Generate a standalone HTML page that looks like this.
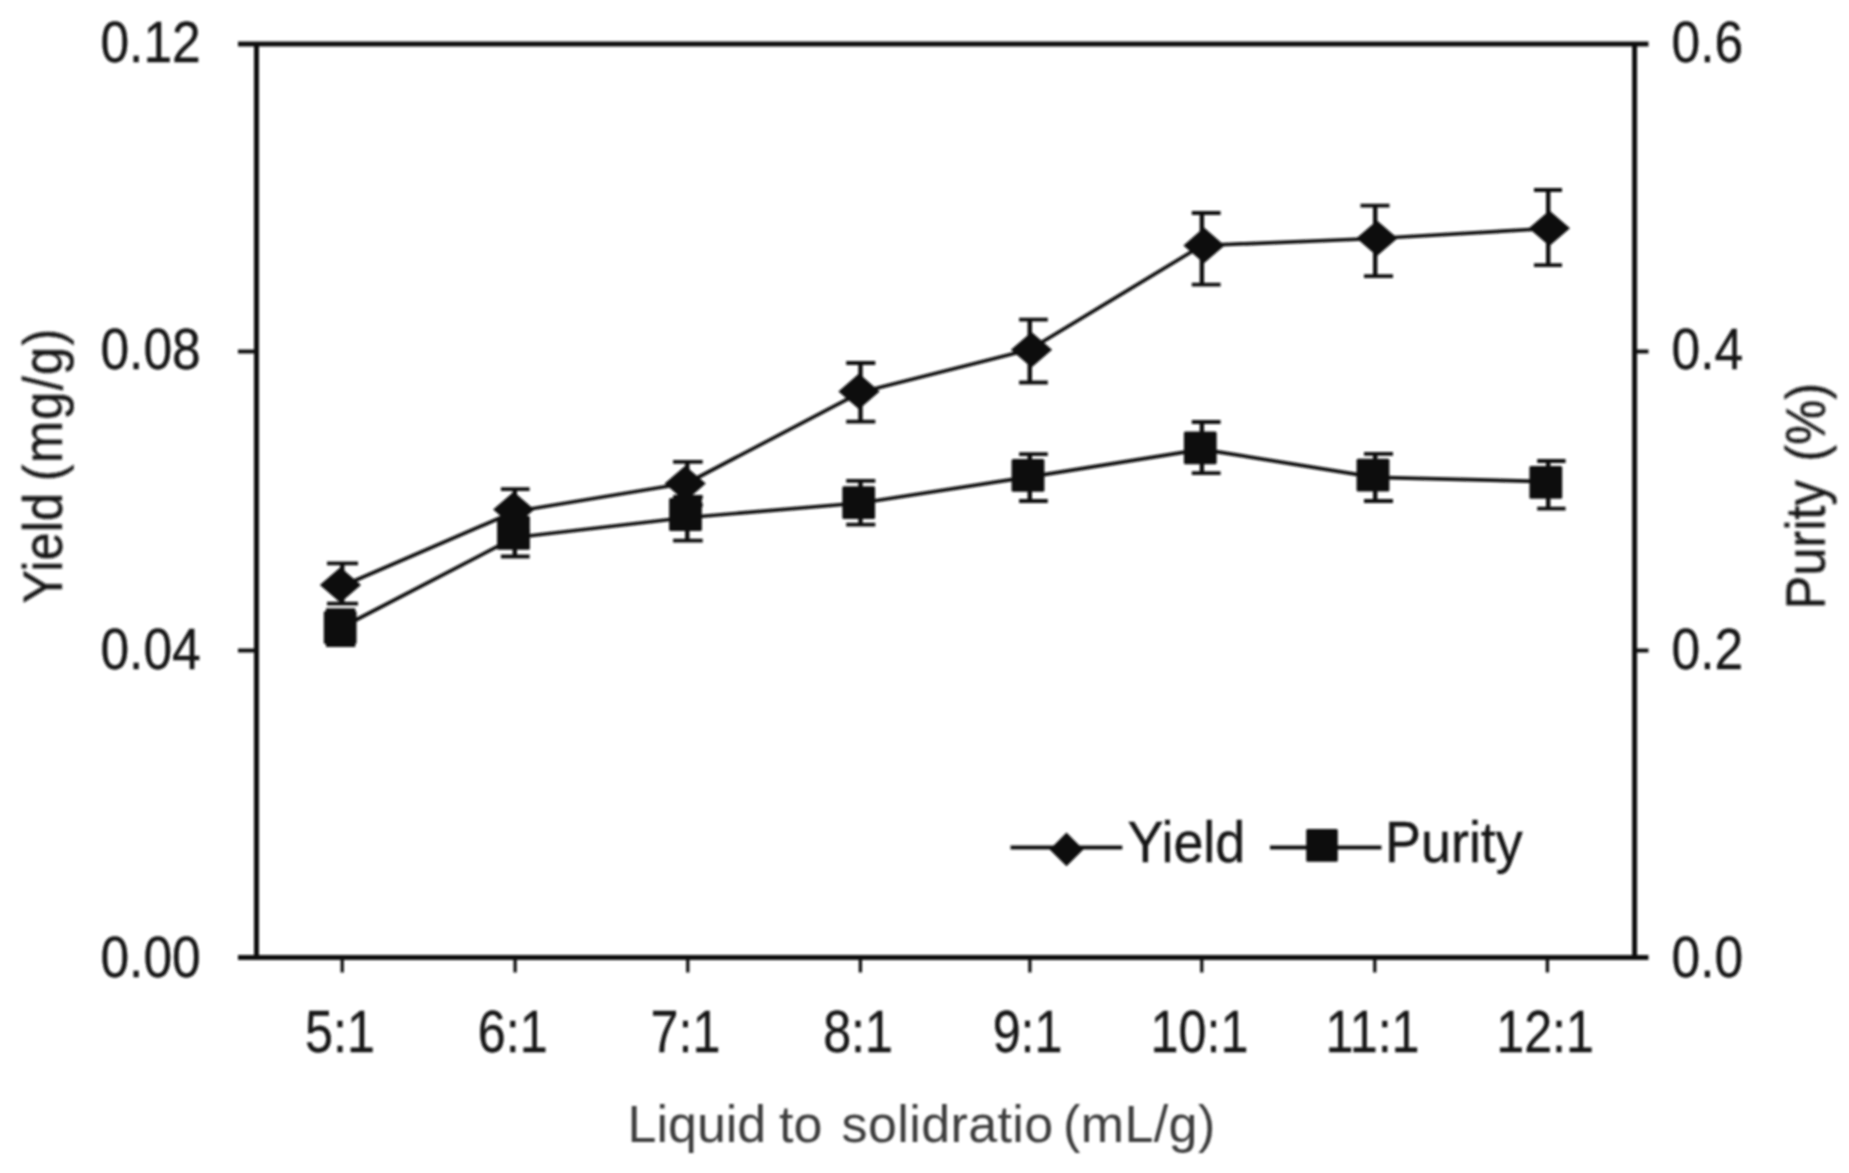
<!DOCTYPE html>
<html lang="en">
<head>
<meta charset="utf-8">
<title>Yield and Purity versus Liquid to solid ratio</title>
<style>
html,body{margin:0;padding:0;background:#fff;}
body{width:1849px;height:1173px;overflow:hidden;}
svg{display:block;}
text{font-family:"Liberation Sans",sans-serif;fill:#161616;stroke:#161616;stroke-width:0.35px;}
.tk{font-size:57px;}
.lg{font-size:57px;}
.tx{font-size:58.5px;}
.ax{font-size:55px;}
.xl{font-size:52px;fill:#3c3c3c;stroke:none;}
</style>
</head>
<body>
<svg width="1849" height="1173" viewBox="0 0 1849 1173">
<defs><filter id="soft" x="-2%" y="-2%" width="104%" height="104%"><feGaussianBlur stdDeviation="0.8"/></filter></defs>
<rect width="1849" height="1173" fill="#fff"/>
<g filter="url(#soft)">
<g stroke="#101010" stroke-width="5.0" fill="none">
<path d="M238 44 H1648.5 M238 957.5 H1648.5 M256.5 44 V957.5 M1634.6 44 V957.5"/>
</g>
<path d="M238 351.4 H256.5 M1634.6 351.4 H1648.5" stroke="#101010" stroke-width="4.0" fill="none"/>
<path d="M238 650.6 H256.5 M1634.6 650.6 H1648.5" stroke="#101010" stroke-width="4.0" fill="none"/>
<path d="M342.2 957.5 V972.5 M515.1 957.5 V972.5 M687.8 957.5 V972.5 M860.4 957.5 V972.5 M1029.9 957.5 V972.5 M1201.8 957.5 V972.5 M1374.8 957.5 V972.5 M1547.4 957.5 V972.5" stroke="#101010" stroke-width="3.3" fill="none"/>
<polyline points="342.3,586.0 514.8,511.5 687.3,483.0 860.5,392.3 1029.8,349.5 1201.9,245.5 1375.2,238.5 1548.2,228.5" fill="none" stroke="#101010" stroke-width="3.7" stroke-linejoin="round"/>
<polyline points="342.3,627.0 514.8,537.5 687.3,517.5 860.5,503.0 1029.8,476.8 1201.9,449.3 1375.2,477.3 1548.2,481.6" fill="none" stroke="#101010" stroke-width="3.7" stroke-linejoin="round"/>
<path d="M342.3 563.4 V603.6 M514.8 489.2 V531.0 M687.3 461.9 V505.0 M860.5 363.0 V421.6 M1029.8 319.7 V382.5 M1201.9 213.0 V284.7 M1375.2 205.6 V276.1 M1548.2 190.0 V265.2 M342.3 610.1 V645.0 M514.8 518.0 V556.5 M687.3 497.0 V540.6 M860.5 480.9 V524.6 M1029.8 454.1 V501.0 M1201.9 422.0 V473.1 M1375.2 453.8 V501.0 M1548.2 461.0 V508.6" stroke="#101010" stroke-width="4.4" fill="none"/>
<path d="M327.0 563.4 H358.0 M327.0 603.6 H358.0 M500.9 489.2 H529.6 M500.9 531.0 H529.6 M673.1 461.9 H702.7 M673.1 505.0 H702.7 M846.2 363.0 H875.3 M846.2 421.6 H875.3 M1019.1 319.7 H1047.8 M1019.1 382.5 H1047.8 M1191.8 213.0 H1220.6 M1191.8 284.7 H1220.6 M1360.5 205.6 H1389.5 M1364.0 276.1 H1393.0 M1534.0 190.0 H1562.0 M1534.0 265.2 H1562.0 M326.0 610.1 H355.3 M326.0 645.0 H355.3 M500.9 518.0 H529.6 M500.9 556.5 H529.6 M673.1 497.0 H702.7 M673.1 540.6 H702.7 M846.2 480.9 H875.3 M846.2 524.6 H875.3 M1019.1 454.1 H1047.8 M1019.1 501.0 H1047.8 M1191.8 422.0 H1220.6 M1191.8 473.1 H1220.6 M1364.0 453.8 H1393.0 M1364.0 501.0 H1393.0 M1537.2 461.0 H1565.6 M1537.2 508.6 H1565.6" stroke="#101010" stroke-width="3.8" fill="none"/>
<g fill="#101010">
<path d="M340.4 567.2 L361.0 585.0 L340.4 602.8 L319.8 585.0 Z"/>
<path d="M513.7 491.8 L534.3 509.6 L513.7 527.4 L493.1 509.6 Z"/>
<path d="M685.2 465.8 L705.8 483.6 L685.2 501.4 L664.6 483.6 Z"/>
<path d="M859.0 373.6 L879.6 391.4 L859.0 409.2 L838.4 391.4 Z"/>
<path d="M1031.5 331.9 L1052.1 349.7 L1031.5 367.5 L1010.9 349.7 Z"/>
<path d="M1204.0 227.6 L1224.6 245.4 L1204.0 263.2 L1183.4 245.4 Z"/>
<path d="M1377.0 220.5 L1397.6 238.3 L1377.0 256.1 L1356.4 238.3 Z"/>
<path d="M1549.4 210.5 L1570.0 228.3 L1549.4 246.1 L1528.8 228.3 Z"/>
<rect x="323.8" y="611.1" width="32.8" height="32.8" rx="1.5"/>
<rect x="497.1" y="517.0" width="32.8" height="32.8" rx="1.5"/>
<rect x="669.1" y="498.1" width="32.8" height="32.8" rx="1.5"/>
<rect x="842.3" y="486.2" width="32.8" height="32.8" rx="1.5"/>
<rect x="1011.6" y="458.9" width="32.8" height="32.8" rx="1.5"/>
<rect x="1183.9" y="431.4" width="32.8" height="32.8" rx="1.5"/>
<rect x="1356.6" y="458.8" width="32.8" height="32.8" rx="1.5"/>
<rect x="1529.4" y="466.0" width="32.8" height="32.8" rx="1.5"/>
</g>
<path d="M1010.5 847.5 H1122.3 M1270 847.5 H1381.5" stroke="#101010" stroke-width="4.2" fill="none"/>
<path fill="#101010" d="M1066.5 832.6 L1083.4 849.4 L1066.5 866.2 L1049.6 849.4 Z"/>
<rect fill="#101010" x="1306.2" y="829" width="31.6" height="32.8" rx="1.5"/>
<text class="lg" transform="translate(1127.5 862) scale(0.945 1)">Yield</text>
<text class="lg" transform="translate(1385 862) scale(0.946 1)">Purity</text>
<text class="tk" transform="translate(200.8 61.8) scale(0.905 1)" text-anchor="end">0.12</text>
<text class="tk" transform="translate(200.8 369.2) scale(0.905 1)" text-anchor="end">0.08</text>
<text class="tk" transform="translate(200.8 668.7) scale(0.905 1)" text-anchor="end">0.04</text>
<text class="tk" transform="translate(200.8 976.6) scale(0.905 1)" text-anchor="end">0.00</text>
<text class="tk" transform="translate(1671.5 61.8) scale(0.905 1)">0.6</text>
<text class="tk" transform="translate(1671.5 369.2) scale(0.905 1)">0.4</text>
<text class="tk" transform="translate(1671.5 668.7) scale(0.905 1)">0.2</text>
<text class="tk" transform="translate(1671.5 976.6) scale(0.905 1)">0.0</text>
<text class="tx" transform="translate(339.9 1052) scale(0.86 1)" text-anchor="middle">5:1</text>
<text class="tx" transform="translate(512.8 1052) scale(0.86 1)" text-anchor="middle">6:1</text>
<text class="tx" transform="translate(685.5 1052) scale(0.86 1)" text-anchor="middle">7:1</text>
<text class="tx" transform="translate(858.1 1052) scale(0.86 1)" text-anchor="middle">8:1</text>
<text class="tx" transform="translate(1027.6 1052) scale(0.86 1)" text-anchor="middle">9:1</text>
<text class="tx" transform="translate(1199.5 1052) scale(0.86 1)" text-anchor="middle">10:1</text>
<text class="tx" transform="translate(1372.5 1052) scale(0.86 1)" text-anchor="middle">11:1</text>
<text class="tx" transform="translate(1545.1 1052) scale(0.86 1)" text-anchor="middle">12:1</text>
<text class="ax" transform="translate(61.8 603.6) rotate(-90) scale(0.92 1)" word-spacing="-2.5">Yield <tspan letter-spacing="1.4">(mg/g)</tspan></text>
<text class="ax" transform="translate(1824.6 609.5) rotate(-90) scale(0.92 1)" word-spacing="5">Purity (%)</text>
<text class="xl" y="1141.5"><tspan x="627.5">Liquid </tspan><tspan x="779">to </tspan><tspan x="841.5" letter-spacing="0.4">solidratio </tspan><tspan x="1063" letter-spacing="0.4">(mL/g)</tspan></text>
</g>
</svg>
</body>
</html>
